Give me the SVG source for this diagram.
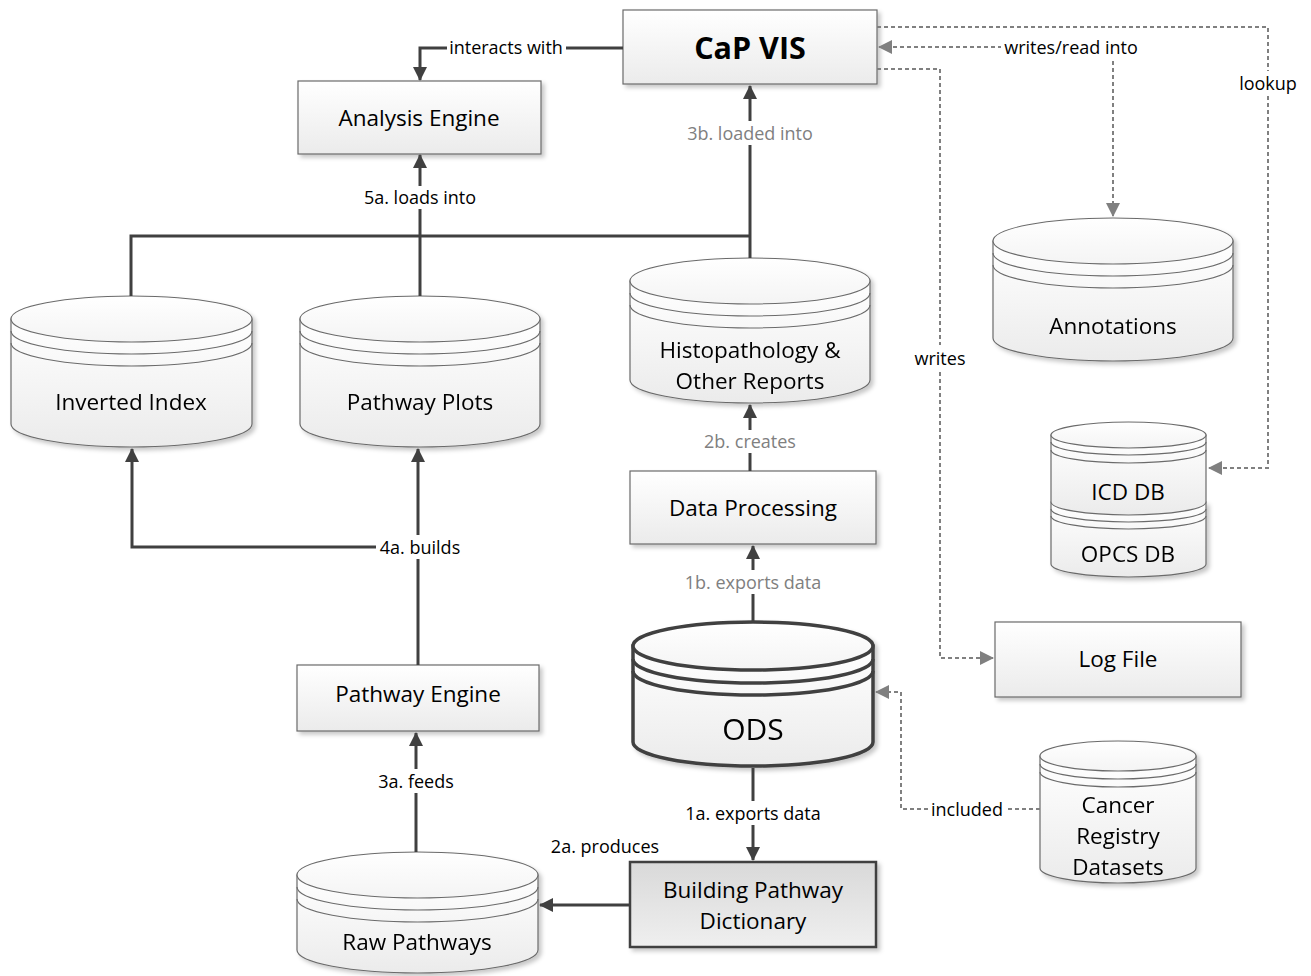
<svg xmlns="http://www.w3.org/2000/svg" width="1311" height="976" viewBox="0 0 1311 976">
<defs>
<linearGradient id="gBox" x1="0" y1="0" x2="0" y2="1"><stop offset="0" stop-color="#ffffff"/><stop offset="1" stop-color="#ebebeb"/></linearGradient>
<linearGradient id="gDark" x1="0" y1="0" x2="0" y2="1"><stop offset="0" stop-color="#d9d9d9"/><stop offset="1" stop-color="#efefef"/></linearGradient>
<linearGradient id="gTop" x1="0" y1="0" x2="0" y2="1"><stop offset="0" stop-color="#ffffff"/><stop offset="1" stop-color="#f4f4f4"/></linearGradient>
<filter id="sh" x="-10%" y="-10%" width="130%" height="140%"><feDropShadow dx="3" dy="3" stdDeviation="2" flood-color="#000" flood-opacity="0.22"/></filter>
<marker id="aD" viewBox="0 0 14 14" refX="13" refY="7" markerWidth="14" markerHeight="14" markerUnits="userSpaceOnUse" orient="auto"><path d="M0,0 L14,7 L0,14 Z" fill="#404040"/></marker>
<marker id="aG" viewBox="0 0 14 14" refX="13" refY="7" markerWidth="14" markerHeight="14" markerUnits="userSpaceOnUse" orient="auto-start-reverse"><path d="M0,0 L14,7 L0,14 Z" fill="#808080"/></marker>
</defs>
<style>
.box{fill:url(#gBox);stroke:#6b6b6b;stroke-width:1.2;filter:url(#sh)}
.cyl{fill:url(#gBox);stroke:#6b6b6b;stroke-width:1.2}
.top{fill:url(#gTop);stroke:#6b6b6b;stroke-width:1.2}
.ln{fill:none;stroke:#6b6b6b;stroke-width:1.2}
.thick .cyl,.thick .top,.thick .ln{stroke:#404040;stroke-width:3.5}
.t{font-family:"Open Sans","Noto Sans",sans-serif;font-size:22.5px;fill:#000;text-anchor:middle;dominant-baseline:central}
.lb{font-family:"Open Sans","Noto Sans",sans-serif;font-size:18px;fill:#000;text-anchor:middle;dominant-baseline:central}
.gl{fill:#808080}
.s{fill:none;stroke:#404040;stroke-width:3}
.d{fill:none;stroke:#808080;stroke-width:2;stroke-dasharray:4 3}
</style>

<g id="capvis"><rect class="box" x="623" y="10" width="254" height="74"/><text class="t" x="750" y="47" style="font-size:30.5px;font-weight:bold">CaP VIS</text></g>
<g id="analysis"><rect class="box" x="298" y="81" width="243" height="73"/><text class="t" x="419" y="117">Analysis Engine</text></g>
<g id="dataproc"><rect class="box" x="630" y="471" width="246" height="73"/><text class="t" x="753" y="507">Data Processing</text></g>
<g id="pathengine"><rect class="box" x="297" y="665" width="242" height="66"/><text class="t" x="418" y="693">Pathway Engine</text></g>
<g id="logfile"><rect class="box" x="995" y="622" width="246" height="75"/><text class="t" x="1118" y="658">Log File</text></g>
<g id="building"><rect x="630" y="862" width="246" height="85" fill="url(#gDark)" stroke="#404040" stroke-width="2.5" filter="url(#sh)"/><text class="t" x="753" y="889">Building Pathway</text><text class="t" x="753" y="920">Dictionary</text></g>

<g id="inverted" filter="url(#sh)">
<path class="cyl" d="M11,319 V424 A120.5,23 0 0 0 252,424 V319 Z"/>
<ellipse class="top" cx="131.5" cy="319" rx="120.5" ry="23"/>
<path class="ln" d="M11,331 A120.5,23 0 0 0 252,331 M11,343 A120.5,23 0 0 0 252,343"/>
<text class="t" x="131" y="401">Inverted Index</text></g>

<g id="plots" filter="url(#sh)">
<path class="cyl" d="M300,319 V424 A120,23 0 0 0 540,424 V319 Z"/>
<ellipse class="top" cx="420" cy="319" rx="120" ry="23"/>
<path class="ln" d="M300,331 A120,23 0 0 0 540,331 M300,343 A120,23 0 0 0 540,343"/>
<text class="t" x="420" y="401">Pathway Plots</text></g>

<g id="histo" filter="url(#sh)">
<path class="cyl" d="M630,281 V380 A120,23 0 0 0 870,380 V281 Z"/>
<ellipse class="top" cx="750" cy="281" rx="120" ry="23"/>
<path class="ln" d="M630,293 A120,23 0 0 0 870,293 M630,305 A120,23 0 0 0 870,305"/>
<text class="t" x="750" y="349">Histopathology &amp;</text><text class="t" x="750" y="380">Other Reports</text></g>

<g id="annotations" filter="url(#sh)">
<path class="cyl" d="M993,241 V338 A120,23 0 0 0 1233,338 V241 Z"/>
<ellipse class="top" cx="1113" cy="241" rx="120" ry="23"/>
<path class="ln" d="M993,253 A120,23 0 0 0 1233,253 M993,265 A120,23 0 0 0 1233,265"/>
<text class="t" x="1113" y="325">Annotations</text></g>

<g id="opcs" filter="url(#sh)">
<path class="cyl" d="M1051,502 V564 A77.5,13 0 0 0 1206,564 V502 Z"/>
<path class="ln" d="M1051,509 A77.5,13 0 0 0 1206,509 M1051,516 A77.5,13 0 0 0 1206,516"/>
<text class="t" x="1128" y="553">OPCS DB</text></g>
<g id="icd">
<path class="cyl" d="M1051,435 V502 A77.5,13 0 0 0 1206,502 V435 Z"/>
<ellipse class="top" cx="1128.5" cy="435" rx="77.5" ry="13"/>
<path class="ln" d="M1051,442 A77.5,13 0 0 0 1206,442 M1051,450 A77.5,13 0 0 0 1206,450"/>
<text class="t" x="1128" y="491">ICD DB</text></g>

<g id="ods" class="thick" filter="url(#sh)">
<path class="cyl" d="M633,646 V742 A120,24 0 0 0 873,742 V646 Z"/>
<ellipse class="top" cx="753" cy="646" rx="120" ry="24"/>
<path class="ln" d="M633,659 A120,24 0 0 0 873,659 M633,671 A120,24 0 0 0 873,671"/>
<text class="t" x="753" y="728" style="font-size:30px">ODS</text></g>

<g id="cancer" filter="url(#sh)">
<path class="cyl" d="M1040,756 V868 A78,15 0 0 0 1196,868 V756 Z"/>
<ellipse class="top" cx="1118" cy="756" rx="78" ry="15"/>
<path class="ln" d="M1040,764 A78,15 0 0 0 1196,764 M1040,772 A78,15 0 0 0 1196,772"/>
<text class="t" x="1118" y="804">Cancer</text><text class="t" x="1118" y="835">Registry</text><text class="t" x="1118" y="866">Datasets</text></g>

<g id="raw" filter="url(#sh)">
<path class="cyl" d="M297,875 V950 A120.5,23 0 0 0 538,950 V875 Z"/>
<ellipse class="top" cx="417.5" cy="875" rx="120.5" ry="23"/>
<path class="ln" d="M297,887 A120.5,23 0 0 0 538,887 M297,899 A120.5,23 0 0 0 538,899"/>
<text class="t" x="417" y="941">Raw Pathways</text></g>

<g id="connectors">
<path class="s" d="M623,48 H566"/><path class="s" d="M447,48 H420 V80" marker-end="url(#aD)"/>
<text class="lb" x="506" y="47">interacts with</text>
<path class="s" d="M420,296 V209"/><path class="s" d="M420,186 V155" marker-end="url(#aD)"/>
<text class="lb" x="420" y="197">5a. loads into</text>
<path class="s" d="M131,296 V236 H750"/>
<path class="s" d="M750,258 V145"/><path class="s" d="M750,121 V86" marker-end="url(#aD)"/>
<text class="lb gl" x="750" y="133">3b. loaded into</text>
<path class="s" d="M750,471 V453"/><path class="s" d="M750,430 V405" marker-end="url(#aD)"/>
<text class="lb gl" x="750" y="441">2b. creates</text>
<path class="s" d="M753,622 V594"/><path class="s" d="M753,570 V546" marker-end="url(#aD)"/>
<text class="lb gl" x="753" y="582">1b. exports data</text>
<path class="s" d="M753,768 V801"/><path class="s" d="M753,825 V860" marker-end="url(#aD)"/>
<text class="lb" x="753" y="813">1a. exports data</text>
<path class="s" d="M630,905 H540" marker-end="url(#aD)"/>
<text class="lb" x="605" y="846">2a. produces</text>
<path class="s" d="M416,852 V793"/><path class="s" d="M416,769 V733" marker-end="url(#aD)"/>
<text class="lb" x="416" y="781">3a. feeds</text>
<path class="s" d="M418,665 V559"/><path class="s" d="M418,535 V449" marker-end="url(#aD)"/>
<path class="s" d="M376,547 H132 V449" marker-end="url(#aD)"/>
<text class="lb" x="420" y="547">4a. builds</text>

<path class="d" d="M877,27 H1268 V71"/><path class="d" d="M1268,96 V468 H1209" marker-end="url(#aG)"/>
<text class="lb" x="1268" y="83">lookup</text>
<path class="d" d="M879,47 H1001" marker-start="url(#aG)"/><path class="d" d="M1113,61 V216" marker-end="url(#aG)"/>
<text class="lb" x="1071" y="47">writes/read into</text>
<path class="d" d="M877,69 H940 V345"/><path class="d" d="M940,372 V658 H993" marker-end="url(#aG)"/>
<text class="lb" x="940" y="358">writes</text>
<path class="d" d="M1040,809 H1007"/><path class="d" d="M928,809 H901 V692 H876" marker-end="url(#aG)"/>
<text class="lb" x="967" y="809">included</text>
</g>
</svg>
